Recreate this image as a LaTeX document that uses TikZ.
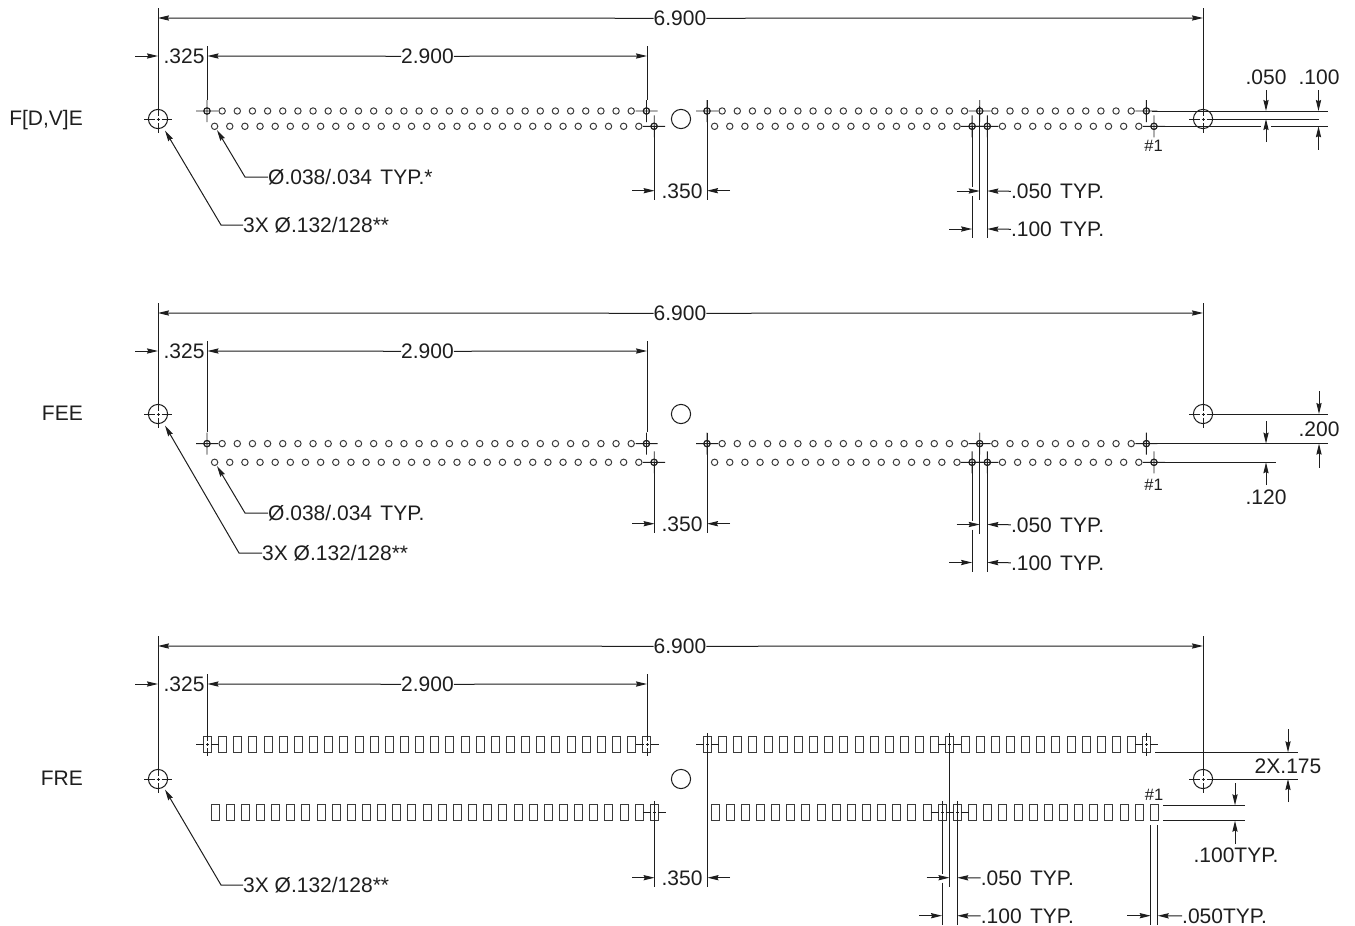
\documentclass[tikz,border=0pt]{standalone}
\usepackage{fontspec}
\setmainfont{Liberation Sans}
\usetikzlibrary{arrows.meta}
\definecolor{ink}{HTML}{1E1E1E}
\definecolor{pinc}{HTML}{3A3A3A}
\tikzset{
  dimline/.style={ink,line width=1pt},
  dimarrow/.style={ink,line width=1pt,-{Stealth[length=11pt,width=5.2pt,inset=1.2pt]}},
  holeline/.style={ink,line width=1pt},
  pinline/.style={pinc,line width=1pt},
  padline/.style={pinc,line width=1pt},
  cross/.style={ink,line width=.9pt},
  lbl/.style={ink,inner sep=0pt,font=\fontsize{21}{25}\selectfont},
  lblsmall/.style={ink,inner sep=0pt,font=\fontsize{16.5}{19}\selectfont},
}
\newcommand\wsp{\ \kern2.5pt}
% broken centre lines
\newcommand\crossmark[3]{%
  \draw[cross] ({#1-#3},#2) -- ({#1-3.5},#2) ({#1-1.5},#2) -- ({#1+1.5},#2) ({#1+3.5},#2) -- ({#1+#3},#2)
               (#1,{#2-#3}) -- (#1,{#2-3.5}) (#1,{#2-1.5}) -- (#1,{#2+1.5}) (#1,{#2+3.5}) -- (#1,{#2+#3});}
\newcommand\bighole[2]{\draw[holeline] (#1,#2) circle[radius=9.6pt]; \crossmark{#1}{#2}{14}}
\newcommand\pinrow[2]{\foreach \k in {0,...,29}{\draw[pinline] ({#1+15.15*\k},#2) circle[radius=3.2pt];}}
\newcommand\pinmark[2]{\draw[cross] (#1,#2) circle[radius=3.2pt] ({#1-11},#2) -- ({#1+11},#2) (#1,{#2-11}) -- (#1,{#2+11});}
\newcommand\padat[2]{\draw[padline] ({#1-4},{#2-8}) rectangle ({#1+4},{#2+8});}
\newcommand\padrow[2]{\foreach \k in {0,...,29}{\padat{#1+15.15*\k}{#2}}}
\newcommand\padmark[2]{\crossmark{#1}{#2}{11.5}}
% common top dimensions of a panel, shifted by #1; #3 = lower end of the outer extension lines
\newcommand\topdims[3]{%
  \begin{scope}[shift={(0,#1)}]
    \node[lbl,anchor=base] (#2w) at (680,25.5) {6.900};
    \node[lbl,anchor=base] (#2p) at (427.5,63.5) {2.900};
    \node[lbl,anchor=base] (#2o) at (184,63.5) {.325};
    \draw[dimarrow] (#2w.west) -- (158,18);
    \draw[dimarrow] (#2w.east) -- (1203,18);
    \draw[dimarrow] (#2p.west) -- (207.5,56);
    \draw[dimarrow] (#2p.east) -- (647,56);
    \draw[dimarrow] (135,56) -- (158,56);
    \draw[dimline] (158,8) -- (158,#3);
    \draw[dimline] (1203,8) -- (1203,#3);
  \end{scope}}
% .050 / .100 TYP dimensions
\newcommand\typdims[8]{% name, xa, xc, xb, y050, y100, bottom, break
  \node[lbl,anchor=base west] (#1a) at ({#4+23.5},{#5+7.5}) {.050\wsp TYP.};
  \node[lbl,anchor=base west] (#1b) at ({#4+23.5},{#6+7.5}) {.100\wsp TYP.};
  \draw[dimarrow] ({#3-23},#5) -- (#3,#5);
  \draw[dimarrow] (#1a.west) -- (#4,#5);
  \draw[dimarrow] ({#2-23},#6) -- (#2,#6);
  \draw[dimarrow] (#1b.west) -- (#4,#6);
  \draw[dimline] (#2,#8) -- (#2,{#5-4}) (#2,{#5+5}) -- (#2,{#6+9});
  \draw[dimline] (#4,#8) -- (#4,{#6+9});
  \draw[dimline] (#3,{#8-20}) -- (#3,{#5+9});}
% .350 dimension
\newcommand\gapdim[5]{% name, y, top left, top right, xr
  \node[lbl,anchor=base] (#1) at (682,{#2+7.5}) {.350};
  \draw[dimarrow] (632,#2) -- (654.6,#2);
  \draw[dimarrow] (730,#2) -- (#5,#2);
  \draw[dimline] (654.6,#3) -- (654.6,{#2+9.5});
  \draw[dimline] (#5,#4) -- (#5,{#2+9.5});}
\begin{document}
\begin{tikzpicture}[x=1pt,y=-1pt]
\useasboundingbox (0,0) rectangle (1355,926);
\fill[white] (0,0) rectangle (1355,926);

%%% PANEL 1
\node[lbl,anchor=base east] (nameA) at (83,125.5) {F[D,V]E};
\topdims{0}{a}{109}
\draw[dimline] (207.5,46) -- (207.5,100);
\draw[dimline] (647,46) -- (647,100);
\bighole{158}{119}
\bighole{1203}{119}
\draw[holeline] (681,119) circle[radius=9.6pt];
\pinrow{207}{111} \pinrow{214.6}{126.3} \pinrow{707}{111} \pinrow{714.6}{126.3}
\pinmark{207}{111} \pinmark{646.5}{111} \pinmark{654.2}{126.3}
\pinmark{707}{111} \pinmark{979.7}{111} \pinmark{1146.4}{111}
\pinmark{972.1}{126.3} \pinmark{987.3}{126.3} \pinmark{1154}{126.3}
\node[lblsmall,anchor=base] (pinA) at (1153.5,151.5) {\#1};
\node[lbl,anchor=base west] (ledA1) at (268,184.5) {Ø.038/.034\wsp TYP.*};
\node[lbl,anchor=base west] (ledA2) at (243,232.5) {3X Ø.132/128**};
\draw[dimarrow] (ledA1.west) -- (245,177) -- (217,130);
\draw[dimarrow] (ledA2.west) -- (221,225) -- (165,130.5);
\gapdim{gapA}{190.7}{126}{100}{707}
\typdims{typA}{972.1}{979.7}{987.3}{191}{229}{238}{126}
% right dims
\draw[dimline] (1152,111) -- (1328,111);
\draw[dimline] (1159.5,126.3) -- (1261,126.3) (1271,126.3) -- (1328,126.3);
\draw[dimline] (1213,119) -- (1319,119);
\node[lbl,anchor=base] (rA1) at (1266,84.5) {.050};
\node[lbl,anchor=base] (rA2) at (1319,84.5) {.100};
\coordinate (rA1t) at (1266,90); \coordinate (rA2t) at (1318.5,90);
\draw[dimarrow] (rA1t) -- (1266,111);
\draw[dimarrow] (rA2t) -- (1318.5,111);
\draw[dimarrow] (1266,142) -- (1266,119);
\draw[dimarrow] (1318.5,149.5) -- (1318.5,126.3);

%%% PANEL 2
\node[lbl,anchor=base east] (nameB) at (83,420.5) {FEE};
\topdims{295}{b}{109}
\draw[dimline] (207.5,341) -- (207.5,432);
\draw[dimline] (647,341) -- (647,432);
\bighole{158}{414}
\bighole{1203}{414}
\draw[holeline] (681,414) circle[radius=9.6pt];
\pinrow{207}{443.6} \pinrow{214.6}{462.3} \pinrow{707}{443.6} \pinrow{714.6}{462.3}
\pinmark{207}{443.6} \pinmark{646.5}{443.6} \pinmark{654.2}{462.3}
\pinmark{707}{443.6} \pinmark{979.7}{443.6} \pinmark{1146.4}{443.6}
\pinmark{972.1}{462.3} \pinmark{987.3}{462.3} \pinmark{1154}{462.3}
\node[lblsmall,anchor=base] (pinB) at (1153.5,490.5) {\#1};
\node[lbl,anchor=base west] (ledB1) at (268,520.5) {Ø.038/.034\wsp TYP.};
\node[lbl,anchor=base west] (ledB2) at (262,560.5) {3X Ø.132/128**};
\draw[dimarrow] (ledB1.west) -- (245,513) -- (217,466);
\draw[dimarrow] (ledB2.west) -- (239,553) -- (165,425.5);
\gapdim{gapB}{523.7}{462}{433}{707}
\typdims{typB}{972.1}{979.7}{987.3}{524.5}{562.5}{571}{462}
% right dims
\draw[dimline] (1213,414) -- (1328,414);
\draw[dimline] (1152,443.6) -- (1328,443.6);
\draw[dimline] (1159.5,462.3) -- (1276,462.3);
\node[lbl,anchor=base] (rB1) at (1319,436) {.200};
\node[lbl,anchor=base] (rB2) at (1266,504.5) {.120};
\draw[dimarrow] (1319,391) -- (1319,414);
\draw[dimarrow] (1319,467.5) -- (1319,443.6);
\draw[dimarrow] (1266,421) -- (1266,443.6);
\draw[dimarrow] (1266,485) -- (1266,462.3);

%%% PANEL 3
\node[lbl,anchor=base east] (nameC) at (83,785.5) {FRE};
\topdims{628}{c}{141}
\draw[dimline] (207.5,674) -- (207.5,733);
\draw[dimline] (647,674) -- (647,733);
\bighole{158}{779}
\bighole{1203}{779}
\draw[holeline] (681,779) circle[radius=9.6pt];
\padrow{207.5}{744.7} \padrow{215}{812.7} \padrow{707.5}{744.7} \padrow{715}{812.7}
\padmark{207.5}{744.7} \padmark{647}{744.7} \padmark{654.5}{812.7}
\padmark{707.5}{744.7} \padmark{949.5}{744.7} \padmark{1146.5}{744.7}
\padmark{942}{812.7} \padmark{957.2}{812.7}
\node[lblsmall,anchor=base] (pinC) at (1154,800.5) {\#1};
\node[lbl,anchor=base west] (ledC2) at (243,892.5) {3X Ø.132/128**};
\draw[dimarrow] (ledC2.west) -- (221,885) -- (165,789.5);
\gapdim{gapC}{877.7}{803}{733}{707.5}
\typdims{typC}{942}{949.5}{957.2}{877.7}{915.7}{925}{802}
\draw[dimline] (949.5,733) -- (949.5,802);
% right dims
\draw[dimline] (1155,752.3) -- (1298,752.3);
\draw[dimline] (1213,779) -- (1298,779);
\node[lbl,anchor=base] (rC1) at (1288,773) {2X.175};
\draw[dimarrow] (1288,729) -- (1288,752.3);
\draw[dimarrow] (1288,802) -- (1288,779);
\draw[dimline] (1163,805.3) -- (1245,805.3);
\draw[dimline] (1163,820.7) -- (1245,820.7);
\draw[dimarrow] (1235,783) -- (1235,805.3);
\draw[dimarrow] (1235,844) -- (1235,820.7);
\node[lbl,anchor=base] (rC2) at (1236,862.5) {.100TYP.};
\node[lbl,anchor=base west] (rC3) at (1182,923.2) {.050TYP.};
\draw[dimline] (1150.7,825) -- (1150.7,925);
\draw[dimline] (1157.7,825) -- (1157.7,925);
\draw[dimarrow] (1127,915.7) -- (1150.7,915.7);
\draw[dimarrow] (rC3.west) -- (1157.7,915.7);
\end{tikzpicture}
\end{document}
